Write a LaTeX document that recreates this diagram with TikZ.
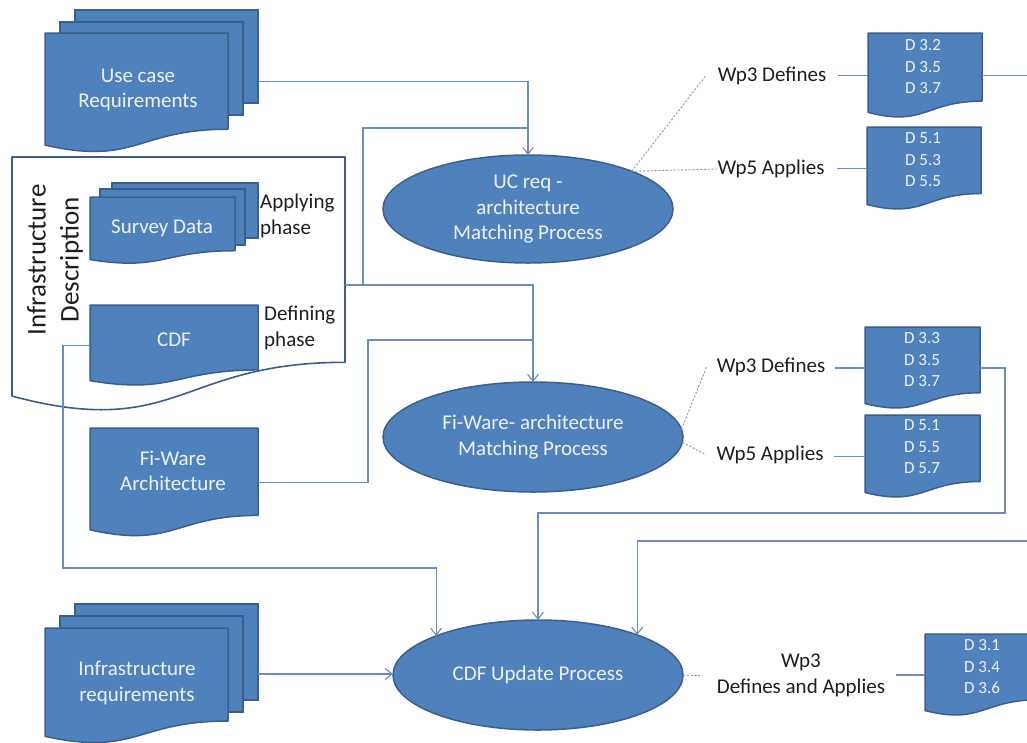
\documentclass[tikz,border=0pt]{standalone}
\usepackage{fontspec}
\setmainfont{Carlito}
\usetikzlibrary{shapes.geometric,arrows.meta,fit,calc}

\definecolor{sheetblue}{HTML}{4F81BD}
\definecolor{sheetedge}{HTML}{3A5F8C}
\definecolor{linkblue}{HTML}{6A8DC0}
\definecolor{dashgray}{HTML}{8798B6}
\definecolor{paletext}{HTML}{EEF3FA}
\definecolor{inktext}{HTML}{1E1E1E}

% document sheet with a wavy lower edge: [style]{name}{x}{y}{w}{h}
\newcommand\docsheet[6][sheet]{%
  \path[#1] (#3,#4) -- ({#3+#5},#4) -- ({#3+#5},{#4+0.802*#6})
    .. controls ({#3+0.5*#5},{#4+0.802*#6}) and ({#3+0.5*#5},{#4+1.107*#6}) ..
    (#3,{#4+0.934*#6}) -- cycle;
  \node[sheetbox, minimum width=#5pt, minimum height=#6pt, anchor=north west] (#2) at (#3,#4) {};
}

\begin{document}
\begin{tikzpicture}[x=1pt,y=-1pt,
  sheet/.style={fill=sheetblue, draw=sheetedge, line width=1.5pt, line join=round},
  frame/.style={fill=white, draw=sheetedge, line width=1.6pt, line join=round},
  sheetbox/.style={inner sep=0pt, outer sep=0pt, draw=none},
  backsheet/.style={rectangle, fill=sheetblue, draw=sheetedge, line width=1.5pt,
    inner sep=0pt, outer sep=0pt, anchor=north west},
  proc/.style={ellipse, fill=sheetblue, draw=sheetedge, line width=1.5pt,
    inner sep=0pt, outer sep=0pt, text=paletext, align=center,
    font=\fontsize{21}{25.5}\selectfont},
  intext/.style={text=paletext, align=center, inner sep=0pt, font=\fontsize{21}{25.5}\selectfont},
  dtext/.style={text=paletext, align=center, inner sep=0pt, font=\fontsize{17}{21.5}\selectfont},
  note/.style={text=inktext, inner sep=0pt, align=center, font=\fontsize{21}{26}\selectfont},
  link/.style={draw=linkblue, line width=1.1pt},
  arr/.style={link, -{Straight Barb[length=7pt,width=11pt]}},
  dashlink/.style={draw=dashgray, line width=0.9pt, dash pattern=on 2.2pt off 1.6pt},
  boxfit/.style={inner sep=0pt, outer sep=0pt, draw=none}]

\useasboundingbox (0,0) rectangle (1027,742);

% ---------- Use case requirements (stack of sheets)
\node[backsheet, minimum width=183pt, minimum height=93pt] (ucr3) at (75,10) {};
\node[backsheet, minimum width=183pt, minimum height=93pt] (ucr2) at (60,22) {};
\docsheet{ucr1}{45}{33}{183}{120}
\node[boxfit, fit=(ucr1)(ucr3)] (ucr) {};
\node[intext] (ucrt) at (138,90) {Use case\\Requirements};

% ---------- Infrastructure description frame
\docsheet[frame]{infra}{12}{157}{333}{256}
\node[note, rotate=90, font=\fontsize{27}{33}\selectfont] (infrat) at (55,260)
  {Infrastructure\\Description};

% survey data (stack of sheets)
\node[backsheet, minimum width=146pt, minimum height=55pt] (sv3) at (112,183) {};
\node[backsheet, minimum width=145pt, minimum height=56pt] (sv2) at (100,189) {};
\docsheet{sv1}{90}{197}{145}{67}
\node[intext] (svt) at (162,228) {Survey Data};
\node[note, align=left, anchor=west] (apph) at (260,216) {Applying\\phase};

% CDF sheet
\docsheet{cdf}{90}{305}{168}{81}
\node[intext] (cdft) at (174,340) {CDF};
\node[note, align=left, anchor=west] (defph) at (264,328) {Defining\\phase};

% ---------- Fi-Ware architecture sheet
\docsheet{fwa}{90}{428}{168}{109}
\node[intext] (fwat) at (173,471) {Fi-Ware\\Architecture};

% ---------- Infrastructure requirements (stack of sheets)
\node[backsheet, minimum width=183pt, minimum height=96pt] (ir3) at (75,604) {};
\node[backsheet, minimum width=183pt, minimum height=96pt] (ir2) at (60,616) {};
\docsheet{ir1}{45}{628}{183}{116}
\node[boxfit, fit=(ir1)(ir3)] (ir) {};
\node[intext] (irt) at (137,683) {Infrastructure\\requirements};

% ---------- processes
\node[proc, minimum width=290pt, minimum height=108pt] (uc) at (528,209)
  {UC req -\\architecture\\Matching Process};
\node[proc, minimum width=300pt, minimum height=110pt] (fw) at (533,437)
  {Fi-Ware- architecture\\Matching Process};
\node[proc, minimum width=290pt, minimum height=110pt] (cdfu) at (538,675)
  {CDF Update Process};

% ---------- deliverables
\docsheet{d32}{868}{33}{114}{85}
\node[dtext] (d32t) at (923,67) {D 3.2\\D 3.5\\D 3.7};
\docsheet{d51}{867}{127}{114}{83}
\node[dtext] (d51t) at (923,160) {D 5.1\\D 5.3\\D 5.5};
\docsheet{d33}{865}{327}{115}{82}
\node[dtext] (d33t) at (922,360) {D 3.3\\D 3.5\\D 3.7};
\docsheet{d55}{865}{415}{115}{83}
\node[dtext] (d55t) at (922,447) {D 5.1\\D 5.5\\D 5.7};
\docsheet{d31}{925}{634}{114}{82}
\node[dtext] (d31t) at (982,667) {D 3.1\\D 3.4\\D 3.6};

% ---------- work package labels
\node[note] (wpa) at (772,76) {Wp3 Defines};
\node[note] (wpb) at (771,169) {Wp5 Applies};
\node[note] (wpc) at (771,367) {Wp3 Defines};
\node[note] (wpd) at (770,455) {Wp5 Applies};
\node[note] (wpe) at (801,675) {Wp3\\Defines and Applies};

% ---------- flows
\draw[arr] (ucr.east) -| (uc.north);
\coordinate (jn) at ($(infra.east)+(18,0)$);
\draw[arr] (infra.east) -| (fw.north);
\draw[link] (jn) |- (uc.north |- 0,128);
\draw[link] (fwa.east) -| (368,340) -- (fw.north |- 0,340);
\draw[arr] (cdf.west) -| (63,568) -| (cdfu.159);
\draw[arr] (ir.east) -- (ir.east -| cdfu.west);
\draw[arr] (d33.east) -| (1005,513) -| (cdfu.north);
\coordinate (edgeA) at (1027,75.5);
\coordinate (edgeB) at (1027,541);
\draw[link] (d32.east) -- (edgeA);
\draw[arr] (edgeB) -| (cdfu.22);

% label to deliverable
\draw[link] ([xshift=12pt]wpa.east |- d32.west) -- (d32.west);
\draw[link] ([xshift=12pt]wpb.east |- d51.west) -- (d51.west);
\draw[link] ([xshift=10pt]wpc.east |- d33.west) -- (d33.west);
\draw[link] ([xshift=10pt]wpd.east |- d55.west) -- (d55.west);
\draw[link] ([xshift=11pt]wpe.east |- d31.west) -- (d31.west);

% process to label
\draw[dashlink] (uc.20) -- ([xshift=-12pt]wpa.west);
\draw[dashlink] (uc.20) -- (wpb.west);
\draw[dashlink] (fw.3) -- ([xshift=-10pt]wpc.west);
\draw[dashlink] (fw.-2) -- ([xshift=-10pt]wpd.west);
\draw[dashlink] (cdfu.east) -- ([xshift=-15pt]wpe.west);

\end{tikzpicture}
\end{document}
